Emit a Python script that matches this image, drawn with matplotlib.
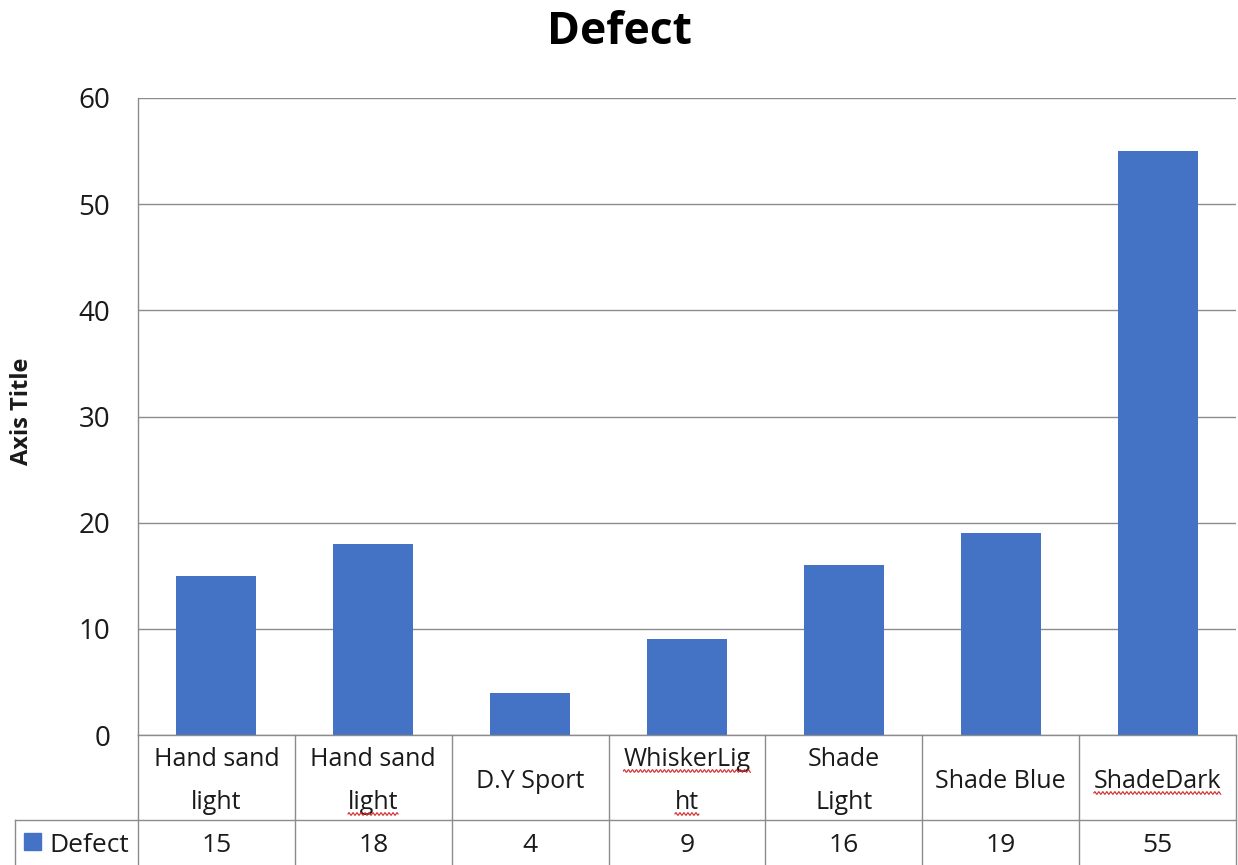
import matplotlib.pyplot as plt
import numpy as np
from matplotlib.lines import Line2D
from matplotlib.transforms import IdentityTransform

plt.rcParams['font.family'] = ['Open Sans', 'DejaVu Sans']

# Data
categories = ["Hand sand\nlight", "Hand sand\nlight", "D.Y Sport", "WhiskerLig\nht",
              "Shade\nLight", "Shade Blue", "ShadeDark"]
defects = [15, 18, 4, 9, 16, 19, 55]
series_name = "Defect"
yticks = [0, 10, 20, 30, 40, 50, 60]
# words the spell checker flagged in each category cell
flagged = [[], ["light"], [], ["WhiskerLig", "ht"], [], [], ["ShadeDark"]]

BAR_COLOR = '#4472C4'
LINE_COLOR = '#8c8c8c'
TEXT_COLOR = '#1a1a1a'
FS = 18

W, H = 1238, 865
AX_L, AX_R, AX_T, AX_B = 138, 1236, 98, 735
fig = plt.figure(figsize=(W / 100, H / 100), dpi=100)
ax = fig.add_axes([AX_L / W, 1 - AX_B / H, (AX_R - AX_L) / W, (AX_B - AX_T) / H])

x = np.arange(len(defects))
ax.bar(x, defects, width=0.51, color=BAR_COLOR, zorder=3)

ax.set_xlim(-0.5, len(defects) - 0.5)
ax.set_ylim(0, 60)
ax.set_yticks(yticks)
ax.set_xticks([])
ax.tick_params(axis='y', length=0, pad=20, labelsize=20, labelcolor=TEXT_COLOR)
ax.grid(axis='y', color=LINE_COLOR, linewidth=1.0, zorder=0)
for side in ['top', 'right', 'bottom']:
    ax.spines[side].set_visible(False)
ax.spines['left'].set_color(LINE_COLOR)
ax.spines['left'].set_linewidth(1.0)

fig.text(22 / W, 1 - 411 / H, "Axis Title", rotation=90, ha='center', va='center',
         fontsize=17, fontweight='bold', color=TEXT_COLOR)
fig.text(0.5, 1 - 32 / H, "Defect", ha='center', va='center', fontsize=32,
         fontweight='bold', color='black')


def ay(px):
    # pixel row below the plot area -> axes fraction
    return -(px - AX_B) / (AX_B - AX_T)


def ax_x(px):
    return (px - AX_L) / (AX_R - AX_L)


# Data table below the plot area
row1 = ay(820)   # bottom of category row
row2 = ay(866)   # bottom of value row
xt = ax.get_xaxis_transform()
tkw = dict(color=LINE_COLOR, linewidth=1.0, clip_on=False, zorder=5)

ax.plot([-0.5, len(defects) - 0.5], [0, 0], transform=xt, **tkw)
ax.plot([ax_x(15), 1], [row1, row1], transform=ax.transAxes, **tkw)
ax.plot([ax_x(15)] * 2, [row1, row2], transform=ax.transAxes, **tkw)
for b in np.arange(len(defects) + 1) - 0.5:
    ax.plot([b, b], [0, row2], transform=xt, **tkw)

baselines = {1: [788], 2: [766, 809]}
label_texts = []
for i, (cat, val) in enumerate(zip(categories, defects)):
    lines = cat.split("\n")
    for line, base in zip(lines, baselines[len(lines)]):
        t = ax.text(i, ay(base), line, transform=xt, ha='center', va='baseline',
                    fontsize=FS, color=TEXT_COLOR)
        if line in flagged[i]:
            label_texts.append(t)
    ax.text(i, ay(852), str(val), transform=xt, ha='center', va='baseline',
            fontsize=FS + 1, color=TEXT_COLOR)

# legend key in the table's first column
ax.add_patch(plt.Rectangle((ax_x(24), ay(850)), 17 / (AX_R - AX_L), 17 / (AX_B - AX_T),
                           transform=ax.transAxes, color=BAR_COLOR, clip_on=False))
ax.text(ax_x(49), ay(852), series_name, transform=ax.transAxes,
        ha='left', va='baseline', fontsize=FS + 1, color=TEXT_COLOR)

# red wavy underline under flagged words
fig.canvas.draw()
renderer = fig.canvas.get_renderer()
for t in label_texts:
    bb = t.get_window_extent(renderer)
    xs = np.arange(bb.x0, bb.x1, 0.5)
    ys = bb.y0 + 1 + 1.3 * np.sin((xs - bb.x0) / 4.0 * 2 * np.pi)
    fig.add_artist(Line2D(xs, ys, transform=IdentityTransform(), color='#d42a2a',
                          linewidth=0.8))

fig.savefig("out.png", dpi=100)
